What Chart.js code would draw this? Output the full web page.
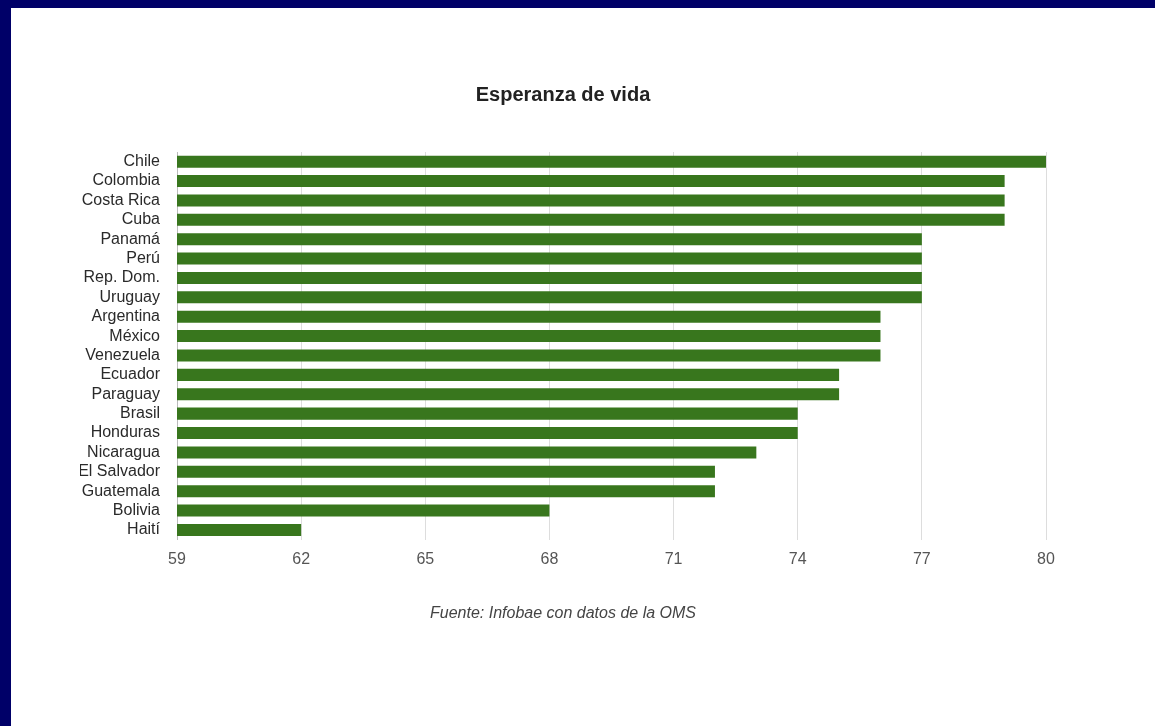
<!DOCTYPE html>
<html>
<head>
<meta charset="utf-8">
<script src="https://cdn.jsdelivr.net/npm/chart.js@4/dist/chart.umd.min.js"></script>
<style>
  html, body { margin: 0; padding: 0; }
  body { width: 1155px; height: 726px; background: #000068; position: relative; overflow: hidden; }
  #frame { position: absolute; left: 11px; top: 8px; width: 1144px; height: 718px; background: #ffffff; }
  canvas { display: block; }
</style>
</head>
<body>
<div id="frame"><canvas id="c" width="1144" height="718"></canvas></div>
<script>
const categories = ["Chile", "Colombia", "Costa Rica", "Cuba", "Panamá", "Perú", "Rep. Dom.", "Uruguay",
  "Argentina", "México", "Venezuela", "Ecuador", "Paraguay", "Brasil", "Honduras", "Nicaragua",
  "El Salvador", "Guatemala", "Bolivia", "Haití"];
const lifeExpectancy = [80, 79, 79, 79, 77, 77, 77, 77, 76, 76, 76, 75, 75, 74, 74, 73, 72, 72, 68, 62];
const xTicks = [59, 62, 65, 68, 71, 74, 77, 80];
const titleText = "Esperanza de vida";
const sourceText = "Fuente: Infobae con datos de la OMS";

const FONT = "'Liberation Sans', Arial, Helvetica, sans-serif";

new Chart(document.getElementById('c'), {
  type: 'bar',
  data: {
    labels: categories,
    datasets: [{
      data: lifeExpectancy,
      backgroundColor: '#38761d',
      borderWidth: 0,
      categoryPercentage: 1.0,
      barPercentage: 0.62
    }]
  },
  options: {
    indexAxis: 'y',
    responsive: false,
    animation: false,
    layout: { padding: { left: 69, right: 109, top: 0, bottom: 0 } },
    plugins: {
      legend: { display: false },
      tooltip: { enabled: false },
      title: {
        display: true,
        text: titleText,
        color: '#222222',
        font: { family: FONT, size: 20, weight: 'bold', lineHeight: 1.2 },
        padding: { top: 75, bottom: 45 }
      },
      subtitle: {
        display: true,
        position: 'bottom',
        text: sourceText,
        color: '#444444',
        font: { family: FONT, size: 16, style: 'italic', lineHeight: 1.2 },
        padding: { top: 25, bottom: 103 }
      }
    },
    scales: {
      x: {
        type: 'linear',
        min: 59,
        max: 80,
        afterBuildTicks: (scale) => { scale.ticks = xTicks.map(v => ({ value: v })); },
        ticks: {
          color: '#555555',
          font: { family: FONT, size: 16 },
          padding: 10
        },
        grid: { color: '#dddddd', drawTicks: false, lineWidth: 1 },
        border: { display: false }
      },
      y: {
        afterFit: (scale) => { scale.width = 97; },
        ticks: {
          color: '#2a2a2a',
          font: { family: FONT, size: 16 },
          padding: 17,
          autoSkip: false
        },
        grid: { display: false, drawTicks: false },
        border: { display: true, color: '#bbbbbb', width: 1 }
      }
    }
  }
});
</script>
</body>
</html>
